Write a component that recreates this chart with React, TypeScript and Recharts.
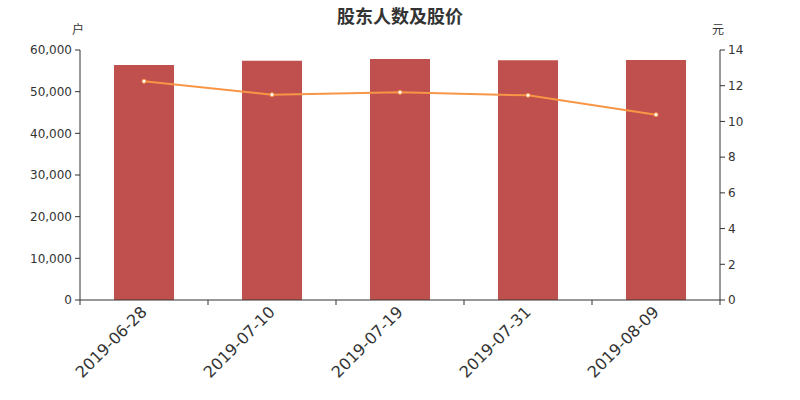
import {
  Bar,
  ComposedChart,
  Line,
  XAxis,
  YAxis,
} from "recharts";

// Reporting dates
const dates = ["2019-06-28", "2019-07-10", "2019-07-19", "2019-07-31", "2019-08-09"];
// Number of shareholders (户)
const holders = [56400, 57430, 57840, 57530, 57600];
// Share price (元)
const prices = [12.25, 11.5, 11.63, 11.46, 10.38];

const leftTicks = [0, 10000, 20000, 30000, 40000, 50000, 60000];
const rightTicks = [0, 2, 4, 6, 8, 10, 12, 14];

const chartData = dates.map((date, i) => ({
  date,
  holders: holders[i],
  price: prices[i],
}));

const FONT = '"DejaVu Sans", "Noto Sans CJK SC", sans-serif';
const AXIS = "#333333";
const PLOT_LEFT = 80;
const PLOT_W = 640;
const BAND = PLOT_W / dates.length;

function DateTick(props: any) {
  const { x, y, payload, index } = props;
  const isLast = index === dates.length - 1;
  return (
    <g>
      <line x1={x - BAND / 2} x2={x - BAND / 2} y1={y - 5} y2={y} stroke={AXIS} />
      {isLast && (
        <line x1={x + BAND / 2} x2={x + BAND / 2} y1={y - 5} y2={y} stroke={AXIS} />
      )}
      <text
        x={x + 4}
        y={y + 8}
        textAnchor="end"
        fontSize={16}
        fill={AXIS}
        fontFamily={FONT}
        transform={`rotate(-45, ${x + 4}, ${y + 8})`}
      >
        {payload.value}
      </text>
    </g>
  );
}

export default function App() {
  return (
    <div
      style={{
        position: "absolute",
        left: 0,
        top: 0,
        width: 800,
        height: 400,
        background: "#fff",
        fontFamily: FONT,
      }}
    >
      <div
        style={{
          position: "absolute",
          top: 2,
          width: 800,
          textAlign: "center",
          fontSize: 18,
          fontWeight: "bold",
          color: AXIS,
        }}
      >
        股东人数及股价
      </div>
      <div style={{ position: "absolute", left: 72, top: 20, fontSize: 12, color: AXIS }}>户</div>
      <div style={{ position: "absolute", left: 712, top: 20, fontSize: 12, color: AXIS }}>元</div>
      <ComposedChart
        width={800}
        height={400}
        data={chartData}
        margin={{ top: 50, right: 0, bottom: 0, left: 0 }}
      >
        <XAxis
          dataKey="date"
          tickLine={false}
          tickSize={5}
          tickMargin={0}
          interval={0}
          axisLine={{ stroke: AXIS }}
          tick={<DateTick />}
          height={100}
        />
        <YAxis
          yAxisId="left"
          orientation="left"
          width={PLOT_LEFT}
          domain={[0, 60000]}
          ticks={leftTicks}
          interval={0}
          tickFormatter={(v: number) => v.toLocaleString("en-US")}
          tick={{ fontSize: 12, fill: AXIS, fontFamily: FONT }}
          axisLine={{ stroke: AXIS }}
          tickLine={{ stroke: AXIS }}
          tickSize={5}
          tickMargin={3}
        />
        <YAxis
          yAxisId="right"
          orientation="right"
          width={80}
          domain={[0, 14]}
          ticks={rightTicks}
          interval={0}
          tick={{ fontSize: 12, fill: AXIS, fontFamily: FONT }}
          axisLine={{ stroke: AXIS }}
          tickLine={{ stroke: AXIS }}
          tickSize={5}
          tickMargin={3}
        />
        <Bar
          yAxisId="left"
          dataKey="holders"
          fill="#c0504d"
          barSize={60}
          isAnimationActive={false}
        />
        <Line
          yAxisId="right"
          dataKey="price"
          type="linear"
          stroke="#f79646"
          strokeWidth={2}
          dot={{ r: 2, fill: "#fff", stroke: "#f79646", strokeWidth: 1 }}
          isAnimationActive={false}
        />
      </ComposedChart>
    </div>
  );
}
